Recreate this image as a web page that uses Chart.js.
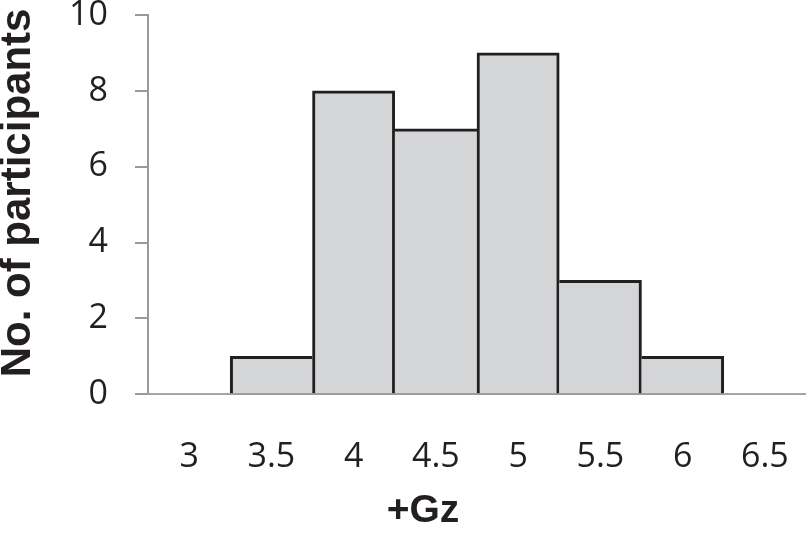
<!DOCTYPE html>
<html lang="en">

<head>
    <meta charset="UTF-8">
    <title>+Gz histogram</title>
    <script src="https://cdn.jsdelivr.net/npm/chart.js"></script>
    <style>
        html, body { margin: 0; padding: 0; background: #fff; }
        #wrap { width: 806px; height: 535px; position: relative; }
    </style>
</head>

<body>
    <div id="wrap"><canvas id="gzChart"></canvas></div>

    <script>
        // data
        const gzLevels = ['3', '3.5', '4', '4.5', '5', '5.5', '6', '6.5'];
        const participants = [0, 1, 8, 7, 9, 3, 1, 0];
        const yTicks = [0, 2, 4, 6, 8, 10];

        const axisGrey = '#9a9a9a';
        const inkColor = '#231f20';

        // shared edge between two bars is drawn by the taller one only
        function barBorder(ctx) {
            const i = ctx.dataIndex;
            if (i === undefined) return 3;
            const v = participants[i];
            if (!v) return 0;
            const prev = i > 0 ? participants[i - 1] : 0;
            const next = i < participants.length - 1 ? participants[i + 1] : 0;
            return {
                top: 3,
                left: prev <= v ? 3 : 0,
                right: next < v ? 3 : 0,
                bottom: 0
            };
        }

        const ctx = document.getElementById('gzChart').getContext('2d');
        new Chart(ctx, {
            type: 'bar',
            data: {
                labels: gzLevels,
                datasets: [{
                    data: participants,
                    backgroundColor: '#d4d5d7',
                    borderColor: inkColor,
                    borderWidth: barBorder,
                    borderSkipped: false,
                    barPercentage: 1,
                    categoryPercentage: 1
                }]
            },
            options: {
                responsive: true,
                maintainAspectRatio: false,
                animation: false,
                layout: { padding: { left: 40, top: 15, right: 0, bottom: 0 } },
                plugins: {
                    legend: { display: false },
                    tooltip: { enabled: false },
                    title: {
                        display: true,
                        position: 'bottom',
                        text: '+Gz',
                        color: inkColor,
                        font: { family: 'Liberation Sans', size: 39, weight: 'bold' },
                        padding: { top: 17, bottom: 0 }
                    }
                },
                scales: {
                    x: {
                        grid: { drawOnChartArea: false, drawTicks: false },
                        border: { display: true, color: axisGrey, width: 2 },
                        ticks: {
                            color: inkColor,
                            font: { family: 'Open Sans', size: 34 },
                            padding: 43,
                            maxRotation: 0
                        },
                        afterFit: function (scale) {
                            scale.height = 77;
                            scale.paddingLeft = 0;
                            scale.paddingRight = 0;
                        }
                    },
                    y: {
                        min: 0,
                        max: 10,
                        afterBuildTicks: function (scale) {
                            scale.ticks = yTicks.map(v => ({ value: v }));
                        },
                        grid: {
                            drawOnChartArea: false,
                            drawTicks: true,
                            tickLength: 13,
                            color: axisGrey,
                            lineWidth: 2
                        },
                        border: { display: true, color: axisGrey, width: 2 },
                        ticks: {
                            color: inkColor,
                            font: { family: 'Open Sans', size: 34 },
                            padding: 27
                        },
                        title: {
                            display: true,
                            // leading spaces nudge the rotated title up a little, as in the original
                            text: '  No. of participants',
                            color: inkColor,
                            font: { family: 'Liberation Sans', size: 42, weight: 'bold' },
                            padding: { top: -47, bottom: 0 }
                        },
                        afterFit: function (scale) {
                            scale.width = 108;
                            scale.paddingTop = 0;
                            scale.paddingBottom = 0;
                        }
                    }
                }
            }
        });
    </script>
</body>

</html>
